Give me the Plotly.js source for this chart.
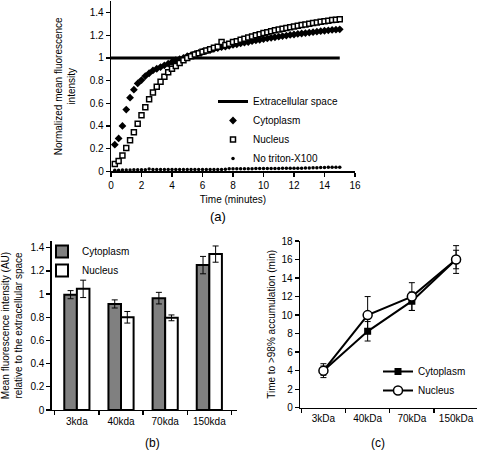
<!DOCTYPE html>
<html>
<head>
<meta charset="utf-8">
<script src="https://cdn.plot.ly/plotly-3.0.1.min.js"></script>
<style>html,body{margin:0;padding:0;background:#fff;}#chart{width:481px;height:450px;}</style>
</head>
<body>
<div id="chart"></div>
<script>
// ---------- Panel (a): time course ----------
const timeMin = [
  0.25,0.5,0.75,1.0,1.25,1.5,1.75,2.0,2.25,2.5,
  2.75,3.0,3.25,3.5,3.75,4.0,4.25,4.5,4.75,5.0,
  5.25,5.5,5.75,6.0,6.25,6.5,6.75,7.0,7.25,7.5,
  7.75,8.0,8.25,8.5,8.75,9.0,9.25,9.5,9.75,10.0,
  10.25,10.5,10.75,11.0,11.25,11.5,11.75,12.0,12.25,12.5,
  12.75,13.0,13.25,13.5,13.75,14.0,14.25,14.5,14.75,15.0
];
const cytoplasmA = [
  0.235,0.29,0.40,0.545,0.65,0.72,0.775,0.805,0.84,0.865,
  0.89,0.905,0.92,0.935,0.95,0.965,0.98,0.99,1.0,1.015,
  1.025,1.035,1.045,1.055,1.062,1.07,1.08,1.088,1.095,1.10,
  1.108,1.115,1.12,1.128,1.135,1.14,1.148,1.155,1.16,1.167,
  1.172,1.178,1.183,1.188,1.193,1.198,1.203,1.207,1.212,1.216,
  1.22,1.224,1.228,1.232,1.236,1.24,1.244,1.247,1.25,1.253
];
const nucleusA = [
  0.065,0.09,0.14,0.205,0.275,0.345,0.42,0.495,0.565,0.635,
  0.695,0.745,0.79,0.835,0.875,0.905,0.93,0.955,0.98,1.0,
  1.015,1.03,1.042,1.055,1.065,1.078,1.09,1.10,1.14,1.115,
  1.125,1.14,1.148,1.16,1.17,1.18,1.19,1.2,1.21,1.22,
  1.228,1.236,1.244,1.252,1.258,1.265,1.272,1.278,1.284,1.29,
  1.296,1.302,1.308,1.314,1.319,1.324,1.329,1.334,1.338,1.342
];
const noTritonA = [
  0.01,0.01,0.012,0.012,0.012,0.013,0.013,0.014,0.014,0.02,
  0.016,0.015,0.015,0.015,0.015,0.015,0.016,0.016,0.016,0.016,
  0.016,0.016,0.016,0.016,0.016,0.016,0.016,0.016,0.016,0.017,
  0.022,0.022,0.022,0.022,0.023,0.023,0.023,0.024,0.024,0.024,
  0.024,0.025,0.025,0.025,0.026,0.026,0.026,0.027,0.028,0.028,
  0.029,0.03,0.031,0.032,0.033,0.034,0.035,0.035,0.036,0.036
];
const extracellularX = [0, 15];
const extracellularY = [1, 1];

// ---------- Panel (b): relative intensity ----------
const sizesB = ['3kda', '40kda', '70kda', '150kda'];
const cytoplasmB = [0.995, 0.915, 0.965, 1.25];
const cytoplasmBErr = [0.035, 0.035, 0.05, 0.075];
const nucleusB = [1.045, 0.80, 0.795, 1.345];
const nucleusBErr = [0.075, 0.05, 0.025, 0.07];

// ---------- Panel (c): time to >98% accumulation ----------
const sizesC = ['3kDa', '40kDa', '70kDa', '150kDa'];
const cytoplasmC = [4, 8.25, 11.5, 16];
const cytoplasmCErr = [0.5, 1.05, 1.0, 1.0];
const nucleusC = [4, 10, 12, 16];
const nucleusCErr = [0.75, 2.0, 1.5, 1.5];

const FONT = 'Liberation Sans, Arial, sans-serif';
const W = 481, H = 450;
const px = v => v / W;
const py = v => 1 - v / H;

const axisBase = {
  showline: true, linecolor: '#000', linewidth: 1.3,
  ticks: 'outside', ticklen: 4, tickcolor: '#000', tickwidth: 1.3,
  showgrid: false, zeroline: false,
  tickfont: {family: FONT, size: 10, color: '#000'}
};

const traces = [
  {x: extracellularX, y: extracellularY, type: 'scatter', mode: 'lines',
   name: 'Extracellular space', line: {color: '#000', width: 3},
   xaxis: 'x', yaxis: 'y', legend: 'legend'},
  {x: timeMin, y: cytoplasmA, type: 'scatter', mode: 'markers', name: 'Cytoplasm',
   marker: {symbol: 'diamond', size: 6, color: '#000'},
   xaxis: 'x', yaxis: 'y', legend: 'legend'},
  {x: timeMin, y: nucleusA, type: 'scatter', mode: 'markers', name: 'Nucleus',
   marker: {symbol: 'square', size: 5, color: '#fff', line: {color: '#000', width: 1.5}},
   xaxis: 'x', yaxis: 'y', legend: 'legend'},
  {x: timeMin, y: noTritonA, type: 'scatter', mode: 'markers', name: 'No triton-X100',
   marker: {symbol: 'circle', size: 3.5, color: '#000'},
   xaxis: 'x', yaxis: 'y', legend: 'legend'},

  {x: sizesB, y: cytoplasmB, type: 'bar', name: 'Cytoplasm',
   marker: {color: '#808080', line: {color: '#000', width: 2}},
   error_y: {type: 'data', array: cytoplasmBErr, color: '#000', thickness: 1, width: 3},
   xaxis: 'x2', yaxis: 'y2', legend: 'legend2'},
  {x: sizesB, y: nucleusB, type: 'bar', name: 'Nucleus',
   marker: {color: '#fff', line: {color: '#000', width: 2}},
   error_y: {type: 'data', array: nucleusBErr, color: '#000', thickness: 1, width: 3},
   xaxis: 'x2', yaxis: 'y2', legend: 'legend2'},

  {x: sizesC, y: cytoplasmC, type: 'scatter', mode: 'lines+markers', name: 'Cytoplasm',
   line: {color: '#000', width: 2},
   marker: {symbol: 'square', size: 7, color: '#000'},
   error_y: {type: 'data', array: cytoplasmCErr, color: '#000', thickness: 1, width: 3},
   xaxis: 'x3', yaxis: 'y3', legend: 'legend3'},
  {x: sizesC, y: nucleusC, type: 'scatter', mode: 'lines+markers', name: 'Nucleus',
   line: {color: '#000', width: 2},
   marker: {symbol: 'circle', size: 9, color: '#fff', line: {color: '#000', width: 1.5}},
   error_y: {type: 'data', array: nucleusCErr, color: '#000', thickness: 1, width: 3},
   xaxis: 'x3', yaxis: 'y3', legend: 'legend3'}
];

const legendBase = {
  bgcolor: 'rgba(0,0,0,0)', borderwidth: 0,
  font: {family: FONT, size: 10, color: '#000'},
  itemwidth: 30, xanchor: 'left', yanchor: 'middle', tracegroupgap: 0
};

const layout = {
  width: W, height: H,
  margin: {l: 0, r: 0, t: 0, b: 0},
  paper_bgcolor: '#fff', plot_bgcolor: 'rgba(0,0,0,0)',
  font: {family: FONT, size: 10, color: '#000'},
  barmode: 'group', bargap: 0.43, bargroupgap: 0,
  xaxis: Object.assign({}, axisBase, {
    domain: [px(111), px(355)], anchor: 'y', range: [0, 16], dtick: 2, tick0: 0,
    title: {text: 'Time (minutes)', font: {family: FONT, size: 10, color: '#000'}, standoff: 6}
  }),
  yaxis: Object.assign({}, axisBase, {
    domain: [py(171.3), py(1.3)], anchor: 'x', range: [0, 1.5], dtick: 0.2, tick0: 0,
    title: {text: 'Normalized mean fluorescence<br>intensity', font: {family: FONT, size: 10, color: '#000'}, standoff: 12}
  }),
  xaxis2: Object.assign({}, axisBase, {
    domain: [px(51.7), px(236.7)], anchor: 'y2', type: 'category',
    range: [-0.57, 3.62], tickson: 'boundaries', ticklabelstandoff: 2
  }),
  yaxis2: Object.assign({}, axisBase, {
    domain: [py(410), py(241)], anchor: 'x2', range: [0, 1.458], dtick: 0.2, tick0: 0,
    title: {text: 'Mean fluorescence intensity (AU)<br>relative to the extracellular space', font: {family: FONT, size: 10, color: '#000'}, standoff: 6}
  }),
  xaxis3: Object.assign({}, axisBase, {
    domain: [px(300), px(477.3)], anchor: 'y3', type: 'category',
    range: [-0.53, 3.48], tickson: 'boundaries', ticklabelstandoff: 1
  }),
  yaxis3: Object.assign({}, axisBase, {
    domain: [py(407.7), py(241)], anchor: 'x3', range: [0, 18], dtick: 2, tick0: 0,
    title: {text: 'Time to >98% accumulation (min)', font: {family: FONT, size: 10, color: '#000'}, standoff: 4}
  }),
  legend: Object.assign({}, legendBase, {x: px(213), y: py(130)}),
  legend2: Object.assign({}, legendBase, {x: px(42), y: py(261)}),
  legend3: Object.assign({}, legendBase, {x: px(378), y: py(381)}),
  annotations: [
    {text: '(a)', x: px(218), y: py(216.7), xref: 'paper', yref: 'paper', showarrow: false,
     font: {family: FONT, size: 13, color: '#000'}},
    {text: '(b)', x: px(143.3), y: py(443), xref: 'paper', yref: 'paper', showarrow: false,
     yanchor: 'middle', font: {family: FONT, size: 12, color: '#000'}},
    {text: '(c)', x: px(386.7), y: py(443), xref: 'paper', yref: 'paper', showarrow: false,
     yanchor: 'middle', font: {family: FONT, size: 12, color: '#000'}}
  ]
};

Plotly.newPlot('chart', traces, layout, {staticPlot: true, displayModeBar: false});
</script>
</body>
</html>
